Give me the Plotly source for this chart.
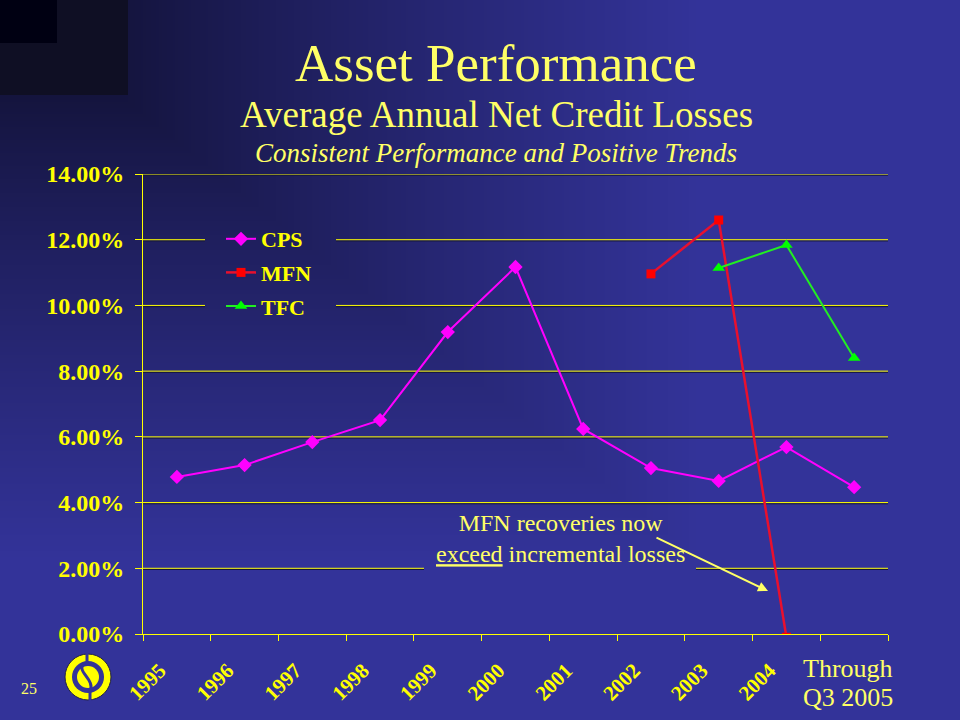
import base64
import struct
import zlib

import numpy as np
import plotly.graph_objects as go

# ---------------- data ----------------
categories = ["1995", "1996", "1997", "1998", "1999", "2000", "2001",
              "2002", "2003", "2004", "Through Q3 2005"]
tick_labels = ["1995", "1996", "1997", "1998", "1999", "2000", "2001",
               "2002", "2003", "2004", ""]
cps = [4.78, 5.14, 5.84, 6.51, 9.19, 11.17, 6.24, 5.05, 4.66, 5.69, 4.47]
mfn = [None, None, None, None, None, None, None, 10.96, 12.60, -0.10, None]
tfc = [None, None, None, None, None, None, None, None, 11.14, 11.84, 8.40]
y_ticks = [0, 2, 4, 6, 8, 10, 12, 14]

W, H = 960, 720
DARK = np.array([10, 10, 32])
BLUE = np.array([51, 51, 153])


def grad_t(x, y):
    r = np.maximum(np.asarray(x) / 700.0, np.asarray(y) / 560.0)
    return np.clip(r, 0, 1) ** 0.8


def grad_color(x, y):
    t = float(grad_t(x, y))
    c = DARK + (BLUE - DARK) * t
    return "rgb(%d,%d,%d)" % tuple(int(round(v)) for v in c)


def px(x, y):
    return x / W, 1 - y / H


def gradient_png(w, h):
    xs, ys = np.meshgrid(np.arange(w) + 0.5, np.arange(h) + 0.5)
    t = grad_t(xs, ys)[..., None]
    img = (DARK + (BLUE - DARK) * t).round().astype(np.uint8)
    raw = b"".join(b"\x00" + img[r].tobytes() for r in range(h))

    def chunk(tag, data):
        c = struct.pack(">I", len(data)) + tag + data
        return c + struct.pack(">I", zlib.crc32(tag + data) & 0xffffffff)

    png = b"\x89PNG\r\n\x1a\n" + chunk(b"IHDR", struct.pack(">IIBBBBB", w, h, 8, 2, 0, 0, 0)) \
        + chunk(b"IDAT", zlib.compress(raw, 9)) + chunk(b"IEND", b"")
    return "data:image/png;base64," + base64.b64encode(png).decode()


fig = go.Figure()

YEL = "#ffff00"
PALE = "#ffff66"

fig.add_trace(go.Scatter(
    x=categories, y=cps, name="CPS", mode="lines+markers", legendgroup="a",
    line=dict(color="#ff00ff", width=2),
    marker=dict(symbol="diamond", size=11, color="#ff00ff")))
fig.add_trace(go.Scatter(
    x=categories, y=mfn, name="MFN", mode="lines+markers", legendgroup="b",
    line=dict(color="#e8102e", width=2.5),
    marker=dict(symbol="square", size=9, color="#ff0000")))
fig.add_trace(go.Scatter(
    x=categories, y=tfc, name="TFC", mode="lines+markers", legendgroup="c",
    line=dict(color="#22ee22", width=2),
    marker=dict(symbol="triangle-up", size=11, color="#00ff00")))

x0, x1 = 143, 888
y_top, y_bot = 174, 634

serif = "Liberation Serif"

annotations = [
    dict(text="Asset Performance", x=496 / W, y=1 - 63 / H, xref="paper", yref="paper",
         showarrow=False, font=dict(family=serif, size=53, color=PALE), xanchor="center", yanchor="middle"),
    dict(text="Average Annual Net Credit Losses", x=496 / W, y=1 - 115 / H, xref="paper", yref="paper",
         showarrow=False, font=dict(family=serif, size=37, color=PALE), xanchor="center", yanchor="middle"),
    dict(text="<i>Consistent Performance and Positive Trends</i>", x=496 / W, y=1 - 153 / H,
         xref="paper", yref="paper", showarrow=False,
         font=dict(family=serif, size=27, color=PALE), xanchor="center", yanchor="middle"),
    dict(text="MFN recoveries now<br><u>exceed</u> incremental losses", x=560 / W, y=1 - 538 / H,
         xref="paper", yref="paper", showarrow=False,
         font=dict(family=serif, size=24, color=PALE), xanchor="center", yanchor="middle"),
    dict(text="", x=768 / W, y=1 - 591 / H, xref="paper", yref="paper", showarrow=True,
         ax=-113, ay=-54, arrowcolor=PALE, arrowwidth=2, arrowhead=2, arrowsize=1),
    dict(text="Through", x=848 / W, y=1 - 668 / H, xref="paper", yref="paper", showarrow=False,
         font=dict(family=serif, size=26, color=PALE), xanchor="center", yanchor="middle"),
    dict(text="Q3 2005", x=848 / W, y=1 - 697 / H, xref="paper", yref="paper", showarrow=False,
         font=dict(family=serif, size=26, color=PALE), xanchor="center", yanchor="middle"),
    dict(text="25", x=29 / W, y=1 - 688 / H, xref="paper", yref="paper", showarrow=False,
         font=dict(family=serif, size=16, color=PALE), xanchor="center", yanchor="middle"),
]

# logo and corner blocks
cx, cy = 88, 677
NAVY = grad_color(cx, cy)


def circ(r, fill, line_color=None, lw=0):
    a, b = px(cx - r, cy - r)
    c, d = px(cx + r, cy + r)
    return dict(type="circle", xref="paper", yref="paper", x0=a, x1=c, y0=d, y1=b,
                fillcolor=fill, line=dict(color=line_color or fill, width=lw), layer="above")


def path_px(points):
    s = ""
    for cmd, pts in points:
        s += cmd + " " + " ".join("%.5f,%.5f" % px(x, y) for x, y in pts) + " "
    return s


shapes = [
    dict(type="rect", xref="paper", yref="paper", x0=0, x1=128 / W, y0=1 - 95 / H, y1=1,
         fillcolor="#0f0f24", line=dict(width=0), layer="above"),
    dict(type="rect", xref="paper", yref="paper", x0=0, x1=57 / W, y0=1 - 43 / H, y1=1,
         fillcolor="#000012", line=dict(width=0), layer="above"),
    circ(23, "#ffff00", "#222244", 1),
    circ(16, NAVY),
    circ(11, "#ffff00"),
    dict(type="path", xref="paper", yref="paper", layer="above",
         path=path_px([("M", [(cx - 3, cy - 14)]), ("C", [(cx - 14, cy - 6), (cx + 8, cy + 2), (cx + 2, cy + 14)])]),
         line=dict(color=NAVY, width=3)),
    dict(type="line", xref="paper", yref="paper", layer="above",
         x0=px(cx - 1, 0)[0], x1=px(cx - 1, 0)[0], y0=px(0, cy - 24)[1], y1=px(0, cy - 14)[1],
         line=dict(color=NAVY, width=3)),
    dict(type="line", xref="paper", yref="paper", layer="above",
         x0=px(cx + 2, 0)[0], x1=px(cx + 2, 0)[0], y0=px(0, cy + 13)[1], y1=px(0, cy + 24)[1],
         line=dict(color=NAVY, width=3)),
]

# gridlines (drawn as segments so they break behind legend / note, as in the slide)
gaps = {12: [(205, 336)], 10: [(205, 336)], 2: [(424, 696)]}
px_per_unit = (y_bot - y_top) / 14.0
for v in y_ticks[1:]:
    segs = []
    start = x0
    for g0, g1 in gaps.get(v, []):
        segs.append((start, g0))
        start = g1
    segs.append((start, x1))
    for s0, s1 in segs:
        d0, d1 = (s0 - x0) / (x1 - x0), (s1 - x0) / (x1 - x0)
        shapes.append(dict(type="line", xref="x domain", yref="y", x0=d0, x1=d1,
                           y0=v - 1.2 / px_per_unit, y1=v - 1.2 / px_per_unit,
                           line=dict(color="#15153a", width=1), layer="below"))
        shapes.append(dict(type="line", xref="x domain", yref="y", x0=d0, x1=d1, y0=v, y1=v,
                           line=dict(color=YEL, width=1), layer="below"))

fig.update_layout(
    width=W, height=H, margin=dict(l=0, r=0, t=0, b=0, pad=0, autoexpand=False),
    paper_bgcolor="rgb(51,51,153)", plot_bgcolor="rgba(0,0,0,0)",
    images=[dict(source=gradient_png(W, H), xref="paper", yref="paper", x=0, y=1,
                 sizex=1, sizey=1, xanchor="left", yanchor="top", sizing="stretch",
                 layer="below")],
    xaxis=dict(domain=[x0 / W, x1 / W], type="category", automargin=False,
               categoryorder="array", categoryarray=categories,
               range=[-0.5, len(categories) - 0.5],
               tickmode="array", tickvals=categories, ticktext=tick_labels,
               tickson="boundaries", ticks="outside", ticklen=6, tickcolor=YEL,
               showline=True, linecolor=YEL, linewidth=1, showgrid=False,
               ticklabelstandoff=15, ticklabelshift=-17,
               tickangle=-45, tickfont=dict(family=serif, size=21, color=YEL, weight="bold")),
    yaxis=dict(domain=[1 - y_bot / H, 1 - y_top / H], range=[0, 14], automargin=False,
               tickmode="array", tickvals=y_ticks,
               ticktext=["%.2f%%" % v for v in y_ticks],
               ticks="outside", ticklen=7, tickcolor=YEL,
               showline=True, linecolor=YEL, linewidth=1, ticklabelstandoff=6,
               showgrid=False, zeroline=False,
               tickfont=dict(family=serif, size=24, color=YEL, weight="bold")),
    legend=dict(x=221 / W, y=1 - 218 / H, xanchor="left", yanchor="top",
                bgcolor="rgba(0,0,0,0)", borderwidth=0,
                font=dict(family=serif, size=22, color=YEL, weight="bold"),
                tracegroupgap=2, itemwidth=30),
    showlegend=True,
    annotations=annotations,
    shapes=shapes,
)

fig.write_html("out.html", config={"displayModeBar": False},
               post_script="document.body.style.margin='0';")
